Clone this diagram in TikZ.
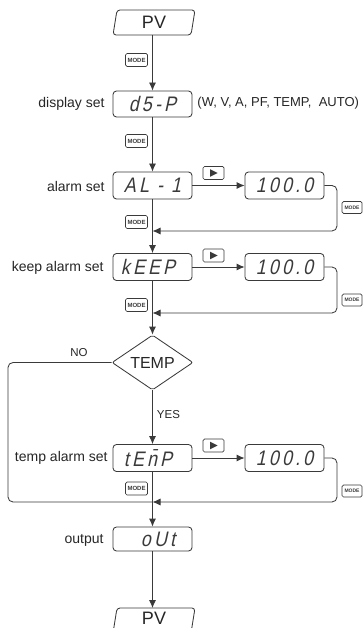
\documentclass[tikz,border=0pt]{standalone}
\usepackage{fontspec}
\setmainfont{Liberation Sans}
\newfontfamily\segfont[FakeSlant=0.22,FakeStretch=0.85,LetterSpace=15]{Liberation Sans}
\usetikzlibrary{arrows.meta,calc,shapes.geometric}
\definecolor{ink}{HTML}{3A3A3A}
\begin{document}
\begin{tikzpicture}[x=1pt,y=-1pt,line width=0.85pt,color=ink,
  disp/.style={draw=ink,rounded corners=3.5pt,minimum width=79pt,minimum height=27pt,inner sep=0pt,
    font=\segfont\fontsize{21}{21}\selectfont,text=ink},
  lbl/.style={anchor=east,inner sep=0pt,font=\fontsize{14}{15}\selectfont,text=black!85},
  modekey/.style={draw=ink,rounded corners=1.5pt,line width=0.7pt,minimum width=22pt,minimum height=13pt,inner sep=0pt,
    font=\bfseries\fontsize{6}{6}\selectfont,text=ink},
  rmodekey/.style={modekey,minimum width=20pt,minimum height=12pt,font=\bfseries\fontsize{5}{5}\selectfont},
  playkey/.style={draw=ink,rounded corners=1.5pt,line width=0.7pt,minimum width=21pt,minimum height=13pt,inner sep=0pt},
  arr/.style={-{Latex[length=8pt,width=7pt]}},
  pvtext/.style={inner sep=0pt,font=\fontsize{18}{18}\selectfont,text=black!85},
  yn/.style={font=\fontsize{11.5}{12}\selectfont,text=black!85,inner sep=0pt}]
\clip (0,0) rectangle (363,628);

% start / end
\node[pvtext] (pv1) at (154,22.5) {PV};
\draw[rounded corners=3pt] ($(pv1.center)+(-37,-12.5)$) -- ($(pv1.center)+(41,-12.5)$) -- ($(pv1.center)+(37,12.5)$) -- ($(pv1.center)+(-41,12.5)$) -- cycle;
\coordinate (pv1b) at ($(pv1.center)+(0,12.5)$);
\node[pvtext] (pv2) at (154,618.5) {PV};
\draw[rounded corners=3pt] ($(pv2.center)+(-37,-10.5)$) -- ($(pv2.center)+(41,-10.5)$) -- ($(pv2.center)+(37,14.5)$) -- ($(pv2.center)+(-41,14.5)$) -- cycle;
\coordinate (pv2t) at ($(pv2.center)+(-1.5,-10.5)$);

% display boxes
\node[disp,minimum height=26pt] (dsp) at (152.5,104) {d5-P};
\node[disp] (al1) at (152.5,185.5) {AL - 1};
\node[disp] (keep) at (152.5,267) {\hspace{-9pt}kEEP};
\node[draw=ink,diamond,aspect=1.47,minimum width=81pt,minimum height=55pt,inner sep=0pt,rounded corners=2pt,
  font=\fontsize{16}{16}\selectfont,text=black!85] (tempd) at (152.5,362.5) {TEMP};
\node[disp] (temp) at (152.5,458) {\hspace{-9pt}tE\={n}P};
\node[disp,minimum height=24pt] (out) at (152.5,539) {\hspace{11pt}oUt};

\node[disp] (v1) at (284.5,185.5) {100.0};
\node[disp] (v2) at (284.5,267) {100.0};
\node[disp] (v3) at (284.5,458) {100.0};

% labels
\node[lbl] (l1) at (105,104) {display set};
\node[lbl] (l2) at (105,186) {alarm set};
\node[lbl] (l3) at (104,268) {keep alarm set};
\node[lbl] (l4) at (108,458) {temp alarm set};
\node[lbl] (l5) at (104,540) {output};
\node[anchor=west,inner sep=0pt,font=\fontsize{13}{14}\selectfont,text=black!85] (opt) at (197,103) {(W, V, A, PF, TEMP,\ \ AUTO)};

% keys
\node[modekey] (mk0) at (136.5,60) {MODE};
\node[modekey] (mk1) at (136.5,141) {MODE};
\node[modekey] (mk2) at (136.5,222) {MODE};
\node[modekey] (mk3) at (136.5,305) {MODE};
\node[modekey] (mk4) at (136.5,488.5) {MODE};
\node[rmodekey] (rm1) at (352,207.5) {MODE};
\node[rmodekey] (rm2) at (352,300) {MODE};
\node[rmodekey] (rm3) at (352,491) {MODE};
\foreach \k/\y in {rk1/173,rk2/255.5,rk3/445.5}{
  \node[playkey] (\k) at (213.5,\y) {};
  \fill[ink] ($(\k.center)+(-3.5,-3.8)$) -- ($(\k.center)+(4,0)$) -- ($(\k.center)+(-3.5,3.8)$) -- cycle;
}

% junctions
\coordinate (j1) at (152.5,231);
\coordinate (j2) at (152.5,313);
\coordinate (j3) at (152.5,502);

% main column
\draw[arr] (dsp.north |- pv1b) -- (dsp.north);
\draw[arr] (dsp.south) -- (al1.north);
\draw[arr] (al1.south) -- (keep.north);
\draw[arr] (keep.south) -- (tempd.north);
\draw[arr] (tempd.south) -- node[yn,right=4pt,pos=0.45] (yes) {YES} (temp.north);
\draw[arr] (temp.south) -- (out.north);
\draw[arr] (out.south) -- (out.south |- pv2t);

% side branches
\draw[arr] (al1.east) -- (v1.west);
\draw[arr] (keep.east) -- (v2.west);
\draw[arr] (temp.east) -- (v3.west);
\draw[arr,rounded corners=5pt] (v1.east) -- (337,185.5) -- (337,231) -- (j1);
\draw[arr,rounded corners=5pt] (v2.east) -- (337,267) -- (337,313) -- (j2);
\draw[arr,rounded corners=5pt] (v3.east) -- (337,458) -- (337,502) -- (j3);
\draw[rounded corners=5pt] (tempd.west) -- (8,362.5) -- (8,502) -- (j3);
\node[yn] (no) at (79,353) {NO};
\end{tikzpicture}
\end{document}
